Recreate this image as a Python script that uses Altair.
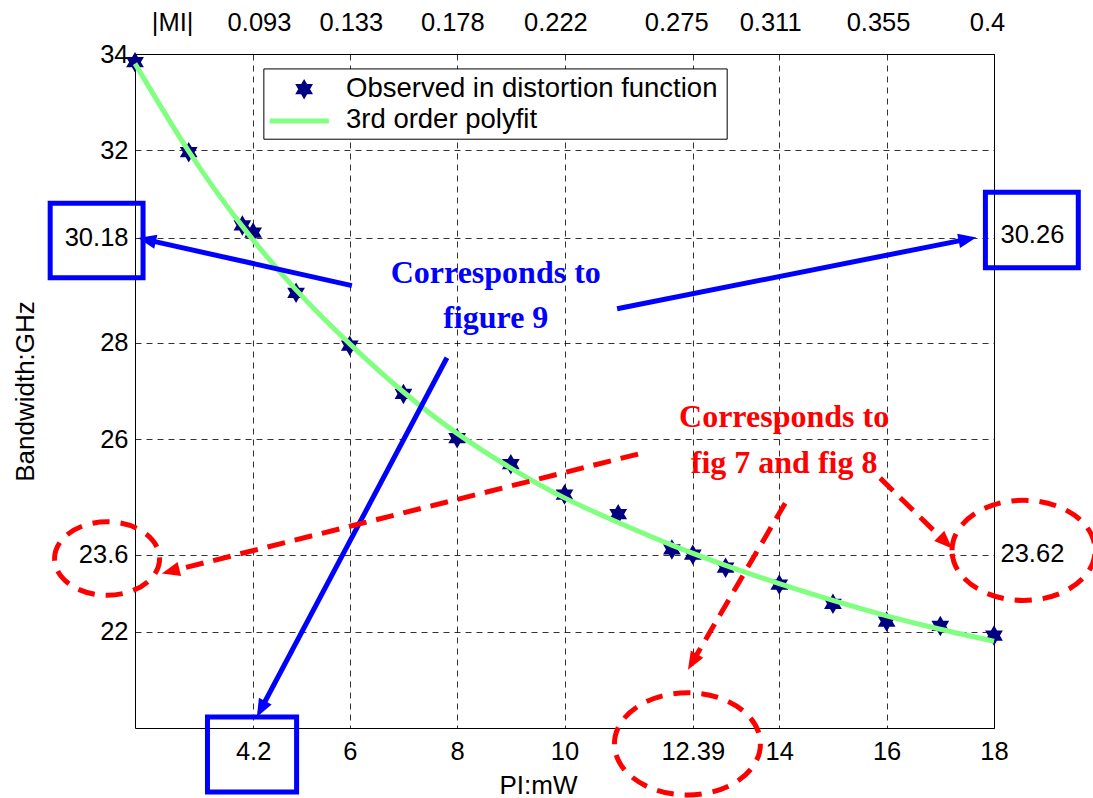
import math
import altair as alt
import pandas as pd

# ---------------- data ----------------
obs_pl = [2, 3, 4, 4.2, 5, 6, 7, 8, 9, 10, 11, 12, 12.39, 13, 14, 15, 16, 17, 18]
obs_bw = [33.83, 31.96, 30.44, 30.29, 29.04, 27.94, 26.94, 26.02, 25.48, 24.85,
          24.44, 23.71, 23.60, 23.33, 22.98, 22.58, 22.21, 22.12, 21.92]

fit_pl = [2, 3, 4, 5, 6, 7, 8, 9, 10, 11, 12, 13, 14, 15, 16, 17, 18]
fit_bw = [33.80, 31.98, 30.42, 29.10, 27.98, 26.98, 26.12, 25.40, 24.78, 24.27,
          23.80, 23.38, 23.00, 22.65, 22.33, 22.05, 21.80]

x_tick_values = [4.2, 6, 8, 10, 12.39, 14, 16, 18]
y_tick_values = [22, 23.6, 26, 28, 30.18, 32, 34]
right_tick_values = [23.62, 30.26]
mi_labels = ["|MI|", "0.093", "0.133", "0.178", "0.222", "0.275", "0.311", "0.355", "0.4"]
mi_positions = [2.69, 4.31, 6.02, 7.91, 9.83, 12.08, 13.83, 15.84, 17.87]

legend_labels = ["Observed in distortion function", "3rd order polyfit"]

# ---------------- annotations (data coordinates) ----------------
blue_box_x = [0.42, 3.35, 17.84]
blue_box_x2 = [2.15, 5.01, 19.57]
blue_box_y = [30.90, 20.23, 31.13]
blue_box_y2 = [29.35, 18.67, 29.56]

blue_arrow_x = [6.04, 10.98, 7.81]
blue_arrow_y = [29.19, 28.71, 27.69]
blue_arrow_tx = [2.06, 17.67, 4.27]
blue_arrow_ty = [30.18, 30.19, 20.23]

red_arrow_x = [11.37, 15.88, 14.11]
red_arrow_y = [25.69, 25.19, 24.67]
red_arrow_tx = [2.50, 17.22, 12.30]
red_arrow_ty = [23.21, 23.73, 21.21]

ellipse_x = [1.48, 18.55, 12.29]
ellipse_y = [23.52, 23.69, 19.67]
ellipse_w = [105, 143, 146]

blue_text = ["Corresponds to", "figure 9"]
blue_text_x = [8.72, 8.72]
blue_text_y = [29.24, 28.31]
red_text = ["Corresponds to", "fig 7 and fig 8"]
red_text_x = [14.09, 14.09]
red_text_y = [26.25, 25.30]

legend_box = dict(x=4.40, x2=13.03, y=33.69, y2=32.23)
legend_star = dict(x=5.15, y=33.27)
legend_line = dict(x=4.51, x2=5.61, y=32.61)
legend_text_x = [5.93, 5.93]
legend_text_y = [33.11, 32.46]

# ---------------- geometry helpers ----------------
W, H = 859, 674
XD, YD = [2, 18], [20, 34]
SX = W / (XD[1] - XD[0])
SY = H / (YD[1] - YD[0])
HEAD = 18

HEX = "M0,-1L0.866,0.5L-0.866,0.5Z M0,1L-0.866,-0.5L0.866,-0.5Z"
ARROW = "M0,0L0.4,1L-0.4,1Z"
k = 0.7 * 0.5523
ELLIPSE = (f"M-1,0 C-1,-{k:.4f} -0.5523,-0.7 0,-0.7 C0.5523,-0.7 1,-{k:.4f} 1,0 "
           f"C1,{k:.4f} 0.5523,0.7 0,0.7 C-0.5523,0.7 -1,{k:.4f} -1,0 Z")


def arrow_df(xs_, ys_, txs, tys):
    rows = []
    for a, b, c, d in zip(xs_, ys_, txs, tys):
        dxp = (c - a) * SX
        dyp = (d - b) * SY
        L = math.hypot(dxp, dyp)
        ang = math.degrees(math.atan2(dxp, dyp)) % 360
        f = 1 - (HEAD * 0.7) / L
        rows.append(dict(x=a, y=b, ex=a + (c - a) * f, ey=b + (d - b) * f,
                         tx=c, ty=d, ang=ang))
    return pd.DataFrame(rows)


obs_df = pd.DataFrame({"pl": obs_pl, "bw": obs_bw})
fit_df = pd.DataFrame({"pl": fit_pl, "bw": fit_bw})
blue_df = arrow_df(blue_arrow_x, blue_arrow_y, blue_arrow_tx, blue_arrow_ty)
red_df = arrow_df(red_arrow_x, red_arrow_y, red_arrow_tx, red_arrow_ty)
box_df = pd.DataFrame({"x": blue_box_x, "x2": blue_box_x2, "y": blue_box_y, "y2": blue_box_y2})
ell_df = pd.DataFrame({"x": ellipse_x, "y": ellipse_y, "s": [w * w for w in ellipse_w]})
btxt_df = pd.DataFrame({"x": blue_text_x, "y": blue_text_y, "t": blue_text})
rtxt_df = pd.DataFrame({"x": red_text_x, "y": red_text_y, "t": red_text})
lbox_df = pd.DataFrame([legend_box])
lstar_df = pd.DataFrame([legend_star])
lline_df = pd.DataFrame([legend_line])
ltxt_df = pd.DataFrame({"x": legend_text_x, "y": legend_text_y, "t": legend_labels})

xs = alt.Scale(domain=XD, nice=False, zero=False)
ys = alt.Scale(domain=YD, nice=False, zero=False)


def X(f, axis=None):
    return alt.X(f, type="quantitative", scale=xs, axis=axis)


def Y(f, axis=None):
    return alt.Y(f, type="quantitative", scale=ys, axis=axis)


mi_expr = ""
for p, lab in zip(mi_positions, mi_labels):
    mi_expr += f"abs(datum.value - {p}) < 0.001 ? '{lab}' : "
mi_expr += "''"

bottom_axis = alt.Axis(values=x_tick_values, labelExpr="'' + datum.value", grid=True,
                       ticks=False, domain=False, title="PI:mW", labelPadding=11,
                       labelFlush=False, labelOverlap=False, titleX=403, titleY=65,
                       titleBaseline="alphabetic", titleAlign="center")
left_axis = alt.Axis(values=y_tick_values, labelExpr="'' + datum.value", grid=True,
                     ticks=False, domain=False, title="Bandwidth:GHz", labelPadding=7,
                     labelFlush=False, labelOverlap=False, titleAngle=270, titleX=-102,
                     titleY=337, titleBaseline="alphabetic", titleAlign="center")
top_axis = alt.Axis(orient="top", values=mi_positions, labelExpr=mi_expr, grid=False,
                    ticks=False, domain=False, title=None, labelPadding=19,
                    labelFlush=False, labelOverlap=False)
right_axis = alt.Axis(orient="right", values=right_tick_values, labelExpr="'' + datum.value",
                      grid=False, ticks=False, domain=False, title=None, labelPadding=6,
                      labelFlush=False, labelOverlap=False)

stars = alt.Chart(obs_df).mark_point(shape=HEX, filled=True, color="#000080", size=420,
                                     opacity=1).encode(
    x=X("pl", bottom_axis), y=Y("bw", left_axis))

curve = alt.Chart(fit_df).mark_line(color="#80FF80", strokeWidth=5, interpolate="natural").encode(
    x=X("pl", top_axis), y=Y("bw", right_axis))

blue_lines = alt.Chart(blue_df).mark_rule(color="#0000FF", strokeWidth=5).encode(
    x=X("x"), y=Y("y"), x2="ex:Q", y2="ey:Q")
blue_heads = alt.Chart(blue_df).mark_point(shape=ARROW, filled=True, color="#0000FF",
                                           size=(2 * HEAD) ** 2, opacity=1).encode(
    x=X("tx"), y=Y("ty"), angle=alt.Angle("ang:Q", scale=None))

red_lines = alt.Chart(red_df).mark_rule(color="#FF0000", strokeWidth=5,
                                        strokeDash=[18, 10]).encode(
    x=X("x"), y=Y("y"), x2="ex:Q", y2="ey:Q")
red_heads = alt.Chart(red_df).mark_point(shape=ARROW, filled=True, color="#FF0000",
                                         size=(2 * HEAD) ** 2, opacity=1).encode(
    x=X("tx"), y=Y("ty"), angle=alt.Angle("ang:Q", scale=None))

boxes = alt.Chart(box_df).mark_rect(fillOpacity=0, stroke="#0000FF", strokeWidth=5).encode(
    x=X("x"), x2="x2:Q", y=Y("y"), y2="y2:Q")

ellipses = alt.Chart(ell_df).mark_point(shape=ELLIPSE, filled=False, stroke="#FF0000",
                                        strokeWidth=5, strokeDash=[17, 11], opacity=1).encode(
    x=X("x"), y=Y("y"), size=alt.Size("s:Q", scale=None))

blue_txt = alt.Chart(btxt_df).mark_text(font="Liberation Serif", fontWeight="bold",
                                        fontSize=32, color="#0000FF", align="center",
                                        baseline="alphabetic").encode(
    x=X("x"), y=Y("y"), text="t:N")
red_txt = alt.Chart(rtxt_df).mark_text(font="Liberation Serif", fontWeight="bold",
                                       fontSize=32, color="#FF0000", align="center",
                                       baseline="alphabetic").encode(
    x=X("x"), y=Y("y"), text="t:N")

leg_box = alt.Chart(lbox_df).mark_rect(fill="white", stroke="black", strokeWidth=1).encode(
    x=X("x"), x2="x2:Q", y=Y("y"), y2="y2:Q")
leg_star = alt.Chart(lstar_df).mark_point(shape=HEX, filled=True, color="#000080", size=420,
                                          opacity=1).encode(x=X("x"), y=Y("y"))
leg_line = alt.Chart(lline_df).mark_rule(color="#80FF80", strokeWidth=5).encode(
    x=X("x"), x2="x2:Q", y=Y("y"))
leg_txt = alt.Chart(ltxt_df).mark_text(font="Liberation Sans", fontSize=27.5, color="black",
                                       align="left", baseline="alphabetic").encode(
    x=X("x"), y=Y("y"), text="t:N")

chart = alt.layer(
    stars, curve, blue_lines, red_lines, blue_heads, red_heads, boxes, ellipses,
    blue_txt, red_txt, leg_box, leg_star, leg_line, leg_txt
).resolve_axis(x="independent", y="independent").properties(
    width=W, height=H,
    autosize=alt.AutoSizeParams(type="none"),
    padding={"left": 135, "top": 54, "right": 99, "bottom": 70},
    background="white",
).configure_view(stroke="black", strokeWidth=1).configure_axis(
    labelFont="Liberation Sans", labelFontSize=25.5, labelColor="black",
    titleFont="Liberation Sans", titleFontSize=26, titleFontWeight="normal", titleColor="black",
    gridColor="black", gridDash=[6, 5], gridOpacity=0.8, gridWidth=1,
)

chart.save("out.html", embed_options={"renderer": "svg", "actions": False})
